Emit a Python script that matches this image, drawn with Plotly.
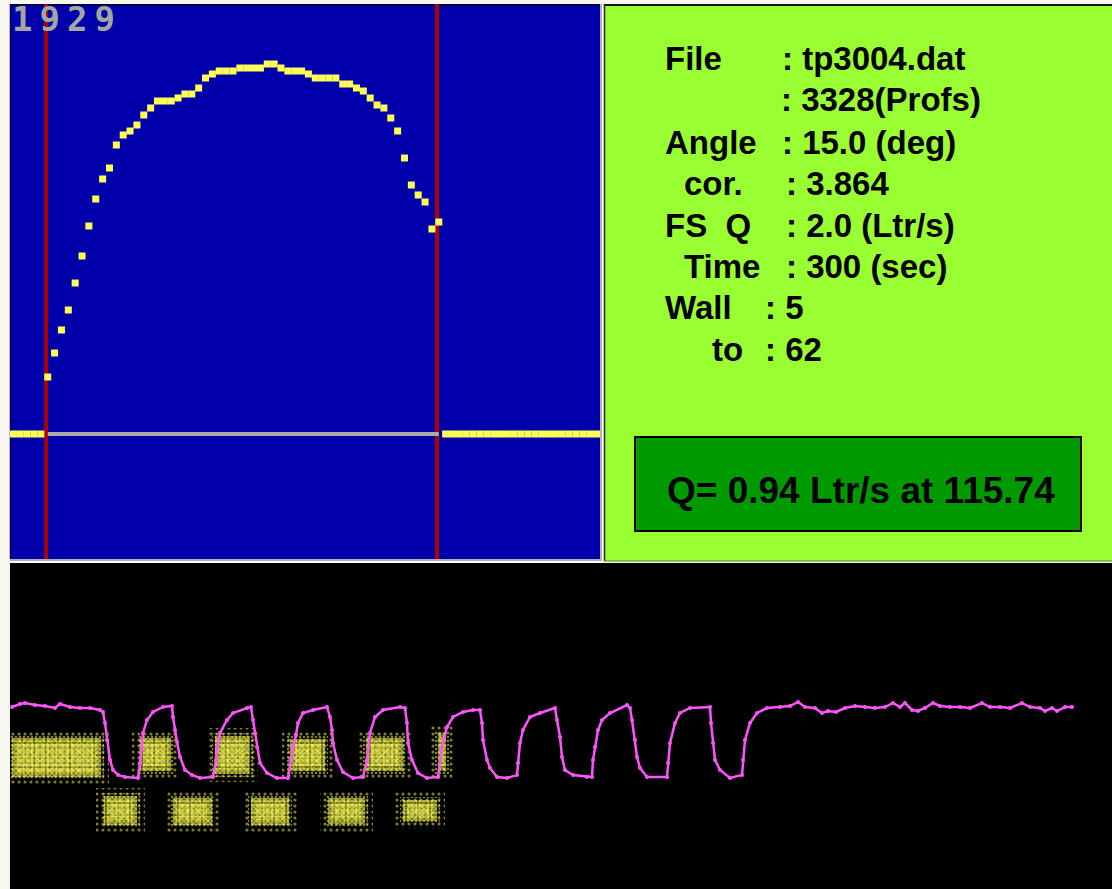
import plotly.graph_objects as go

W, H = 1112, 889

# ---------------- data ----------------
profile_id = "1929"
channel = list(range(86))
velocity = [0, 0, 0, 0, 0,
            57, 81, 104, 124, 151, 178, 208, 235, 255, 266,
            289, 299, 303, 309, 319, 326, 333, 333, 333, 336,
            340, 340, 346, 356, 360, 363, 363, 363,
            366, 366, 366, 366, 370, 370, 366, 363, 363, 363,
            360, 356, 356, 356, 356, 350, 350, 346, 343, 336,
            329, 326, 316, 303, 276, 249, 239, 232, 205, 212,
            0, 0, 0, 0, 0, 0, 0, 0, 0, 0, 0, 0, 0, 0, 0, 0, 0, 0, 0, 0, 0, 0, 0]
wall_from, wall_to = 5, 62

info_labels = ["File", "", "Angle", "cor.", "FS\u00a0\u00a0Q", "Time", "Wall", "to"]
info_values = [": tp3004.dat", ": 3328(Profs)", ": 15.0 (deg)", ": 3.864",
               ": 2.0 (Ltr/s)", ": 300 (sec)", ": 5", ": 62"]
result_text = "Q= 0.94 Ltr/s at 115.74"

# flow signal (time sample, amplitude)
sig_t = [12, 20, 25, 35, 45, 55, 60, 70, 80, 90, 100,
         103, 105, 107, 110, 113, 118, 125, 138,
         140, 142, 143, 147, 153, 163, 172,
         173, 175, 177, 180, 185, 192, 200, 213,
         216, 217, 220, 227, 233, 247, 251,
         253, 255, 257, 260, 267, 277, 288,
         291, 293, 296, 298, 303, 313, 327,
         330, 332, 333, 337, 343, 353, 363,
         367, 370, 375, 383, 400, 405,
         407, 408, 412, 418, 427, 438,
         442, 447, 453, 463, 473, 480,
         482, 483, 487, 490, 497, 507, 517,
         518, 520, 523, 530, 540, 555,
         557, 560, 562, 565, 573, 587, 592,
         593, 595, 598, 602, 610, 627, 630,
         632, 635, 637, 640, 647, 667,
         668, 670, 675, 680, 690, 710,
         711, 713, 715, 720, 730, 742,
         743, 745, 750, 757, 767, 780,
         790, 798, 805, 815, 822, 828, 836, 845, 855, 865, 875, 885, 893, 900,
         905, 912, 918, 925, 933, 940, 950, 960, 970, 982, 990, 1000, 1010, 1022,
         1030, 1040, 1045, 1052, 1057, 1065, 1072]
sig_amp = [182, 185, 186, 184, 183, 181, 185, 182, 181, 181, 179,
           177, 166, 149, 129, 119, 114, 112, 111,
           126, 142, 156, 169, 177, 182, 183,
           172, 159, 147, 132, 119, 114, 111, 112,
           129, 142, 156, 169, 176, 181, 182,
           169, 156, 142, 126, 116, 111, 111,
           129, 142, 154, 166, 176, 179, 182,
           172, 159, 146, 129, 117, 111, 112,
           129, 156, 172, 179, 182, 181,
           166, 146, 129, 116, 111, 112,
           142, 162, 172, 177, 179, 179,
           166, 149, 129, 121, 112, 111, 114,
           126, 146, 159, 172, 176, 181,
           169, 152, 132, 119, 114, 112, 112,
           129, 142, 159, 169, 176, 184, 181,
           169, 149, 132, 121, 112, 112,
           126, 146, 166, 176, 181, 182,
           166, 146, 129, 119, 111, 114,
           129, 149, 166, 176, 181, 182,
           183, 187, 182, 181, 176, 178, 177, 181, 183, 182, 181, 182, 186, 182,
           186, 179, 178, 181, 186, 183, 182, 182, 181, 186, 182, 182, 181, 186,
           182, 181, 178, 181, 178, 182, 182]

# echo clusters (time start, time end, amplitude low, amplitude high)
clu_t0 = [11, 139, 214, 289, 365, 437, 103, 172, 250, 327, 402]
clu_t1 = [102, 172, 251, 326, 404, 447, 138, 213, 290, 366, 438]
clu_lo = [111, 117, 114, 117, 117, 117, 63, 63, 63, 64, 67]
clu_hi = [152, 152, 154, 151, 152, 157, 94, 92, 92, 92, 90]

# ---------------- colours ----------------
PAGE = "#f7f7f0"
BLUE = "#0000aa"
YELLOW = "#ffff55"
RED = "#aa0000"
GREY = "#aaaaaa"
MAGENTA = "#ff55ff"
LIME = "#99ff33"
DKGREEN = "#009900"


def px(x):
    return x / W


def py(y):
    return 1 - y / H


def boxes(pad):
    xs, ys = [], []
    for a, b, lo, hi in zip(clu_t0, clu_t1, clu_lo, clu_hi):
        xs += [a - pad, b + pad, b + pad, a - pad, a - pad, None]
        ys += [lo - pad, lo - pad, hi + pad, hi + pad, lo - pad, None]
    return xs, ys


fig = go.Figure()

# --- profile panel ---
fig.add_trace(go.Scatter(
    x=channel, y=velocity, mode="markers", xaxis="x", yaxis="y",
    marker=dict(symbol="square", size=7, color=YELLOW, line=dict(width=0)),
    showlegend=False, hoverinfo="skip"))

# --- signal panel: speckled echo clusters ---
speckle_layers = [
    (7, ".", 6, 0.22, "rgba(0,0,0,0)"),
    (2, ".", 4, 0.35, "rgba(0,0,0,0)"),
    (-1, ".", 3, 0.5, "rgba(255,255,85,0.28)"),
    (-4, "x", 7, 0.3, "rgba(0,0,0,0)"),
    (-6, ".", 5, 0.55, "rgba(0,0,0,0)"),
]
for pad, shape, size, sol, bg in speckle_layers:
    bx, by = boxes(pad)
    fig.add_trace(go.Scatter(
        x=bx, y=by, mode="lines", fill="toself", xaxis="x2", yaxis="y2",
        line=dict(width=0, color="rgba(0,0,0,0)"),
        fillcolor=bg,
        fillpattern=dict(shape=shape, size=size, solidity=sol,
                         fgcolor=YELLOW, bgcolor=bg),
        showlegend=False, hoverinfo="skip"))

fig.add_trace(go.Scatter(
    x=sig_t, y=sig_amp, mode="lines+markers", xaxis="x2", yaxis="y2",
    line=dict(color=MAGENTA, width=2.5),
    marker=dict(color=MAGENTA, size=4),
    showlegend=False, hoverinfo="skip"))

shapes = [
    # blue profile panel
    dict(type="rect", xref="paper", yref="paper", x0=px(10), x1=px(600), y0=py(559), y1=py(4),
         fillcolor=BLUE, line=dict(width=0), layer="below"),
    dict(type="line", xref="paper", yref="paper", x0=px(10), x1=px(600), y0=py(5), y1=py(5),
         line=dict(color="#000055", width=2), layer="below"),
    dict(type="line", xref="paper", yref="paper", x0=px(10.5), x1=px(10.5), y0=py(559), y1=py(4),
         line=dict(color="#000055", width=1.5), layer="below"),
    dict(type="line", xref="paper", yref="paper", x0=px(10), x1=px(602), y0=py(560), y1=py(560),
         line=dict(color="#b0b0b0", width=2), layer="below"),
    dict(type="line", xref="paper", yref="paper", x0=px(601), x1=px(601), y0=py(561), y1=py(4),
         line=dict(color="#b0b0b0", width=2), layer="below"),
    dict(type="line", xref="paper", yref="paper", x0=px(10), x1=px(603), y0=py(562), y1=py(562),
         line=dict(color="#ffffff", width=2), layer="below"),
    dict(type="line", xref="paper", yref="paper", x0=px(603), x1=px(603), y0=py(562), y1=py(6),
         line=dict(color="#ffffff", width=1.5), layer="below"),
    # green info panel
    dict(type="rect", xref="paper", yref="paper", x0=px(604), x1=px(1112), y0=py(561), y1=py(4),
         fillcolor=LIME, line=dict(width=0), layer="below"),
    dict(type="line", xref="paper", yref="paper", x0=px(604), x1=px(1112), y0=py(5), y1=py(5),
         line=dict(color="#111111", width=2), layer="below"),
    dict(type="line", xref="paper", yref="paper", x0=px(604.5), x1=px(604.5), y0=py(561), y1=py(4),
         line=dict(color="#222222", width=1.5), layer="below"),
    dict(type="line", xref="paper", yref="paper", x0=px(604), x1=px(1112), y0=py(561), y1=py(561),
         line=dict(color="#4a8a1a", width=1), layer="below"),
    # result box
    dict(type="rect", xref="paper", yref="paper", x0=px(635), x1=px(1081), y0=py(531), y1=py(437),
         fillcolor=DKGREEN, line=dict(color="#000000", width=2), layer="below"),
    # black signal panel
    dict(type="rect", xref="paper", yref="paper", x0=px(10), x1=px(1112), y0=py(889), y1=py(563),
         fillcolor="#000000", line=dict(width=0), layer="below"),
    # zero line between walls
    dict(type="line", xref="x", yref="y", x0=wall_from, x1=wall_to, y0=0, y1=0,
         line=dict(color=GREY, width=4), layer="below"),
    # wall markers
    dict(type="line", xref="x", yref="y domain", x0=wall_from - 0.25, x1=wall_from - 0.25, y0=0, y1=1,
         line=dict(color=RED, width=4), layer="below"),
    dict(type="line", xref="x", yref="y domain", x0=wall_to - 0.25, x1=wall_to - 0.25, y0=0, y1=1,
         line=dict(color=RED, width=4), layer="below"),
]

label_x = [663, None, 663, 682, 663, 682, 663, 710]
value_x = [780, 779, 780, 784, 784, 784, 763, 763]
line_y = [58.5, 100, 142, 183, 225.5, 266, 307, 350]
INFO_FONT = dict(family="Liberation Sans, Arial, sans-serif", size=33, color="#000000")

annotations = [
    dict(text='<b><span style="letter-spacing:7px">%s</span></b>' % profile_id,
         xref="paper", yref="paper", x=px(10), y=py(19), xanchor="left", yanchor="middle",
         showarrow=False,
         font=dict(family="DejaVu Sans Mono, monospace", size=34, color="#a2a7a2")),
]
for lab, val, lx, vx, ly in zip(info_labels, info_values, label_x, value_x, line_y):
    if lab:
        annotations.append(dict(text="<b>%s</b>" % lab, xref="paper", yref="paper",
                                x=px(lx), y=py(ly), xanchor="left", yanchor="middle",
                                showarrow=False, font=INFO_FONT))
    annotations.append(dict(text="<b>%s</b>" % val, xref="paper", yref="paper",
                            x=px(vx), y=py(ly), xanchor="left", yanchor="middle",
                            showarrow=False, font=INFO_FONT))
annotations.append(dict(text="<b>%s</b>" % result_text, xref="paper", yref="paper",
                        x=px(861), y=py(490), xanchor="center", yanchor="middle",
                        showarrow=False,
                        font=dict(family="Liberation Sans, Arial, sans-serif", size=37, color="#000000")))

hidden = dict(visible=False, showgrid=False, zeroline=False, fixedrange=True)
fig.update_layout(
    width=W, height=H,
    margin=dict(l=0, r=0, t=0, b=0),
    paper_bgcolor=PAGE, plot_bgcolor="rgba(0,0,0,0)",
    xaxis=dict(domain=[px(10), px(600)], range=[-0.5, 85.5], **hidden),
    yaxis=dict(domain=[py(559), py(4)], range=[-125, 430], **hidden),
    xaxis2=dict(domain=[px(10), 1], range=[10, 1112], anchor="y2", **hidden),
    yaxis2=dict(domain=[0, py(563)], range=[0, 326], anchor="x2", **hidden),
    shapes=shapes,
    annotations=annotations,
    showlegend=False,
)

fig.write_html("out.html",
               config={"displayModeBar": False},
               post_script="document.body.style.margin='0';document.body.style.background='%s';" % PAGE)
